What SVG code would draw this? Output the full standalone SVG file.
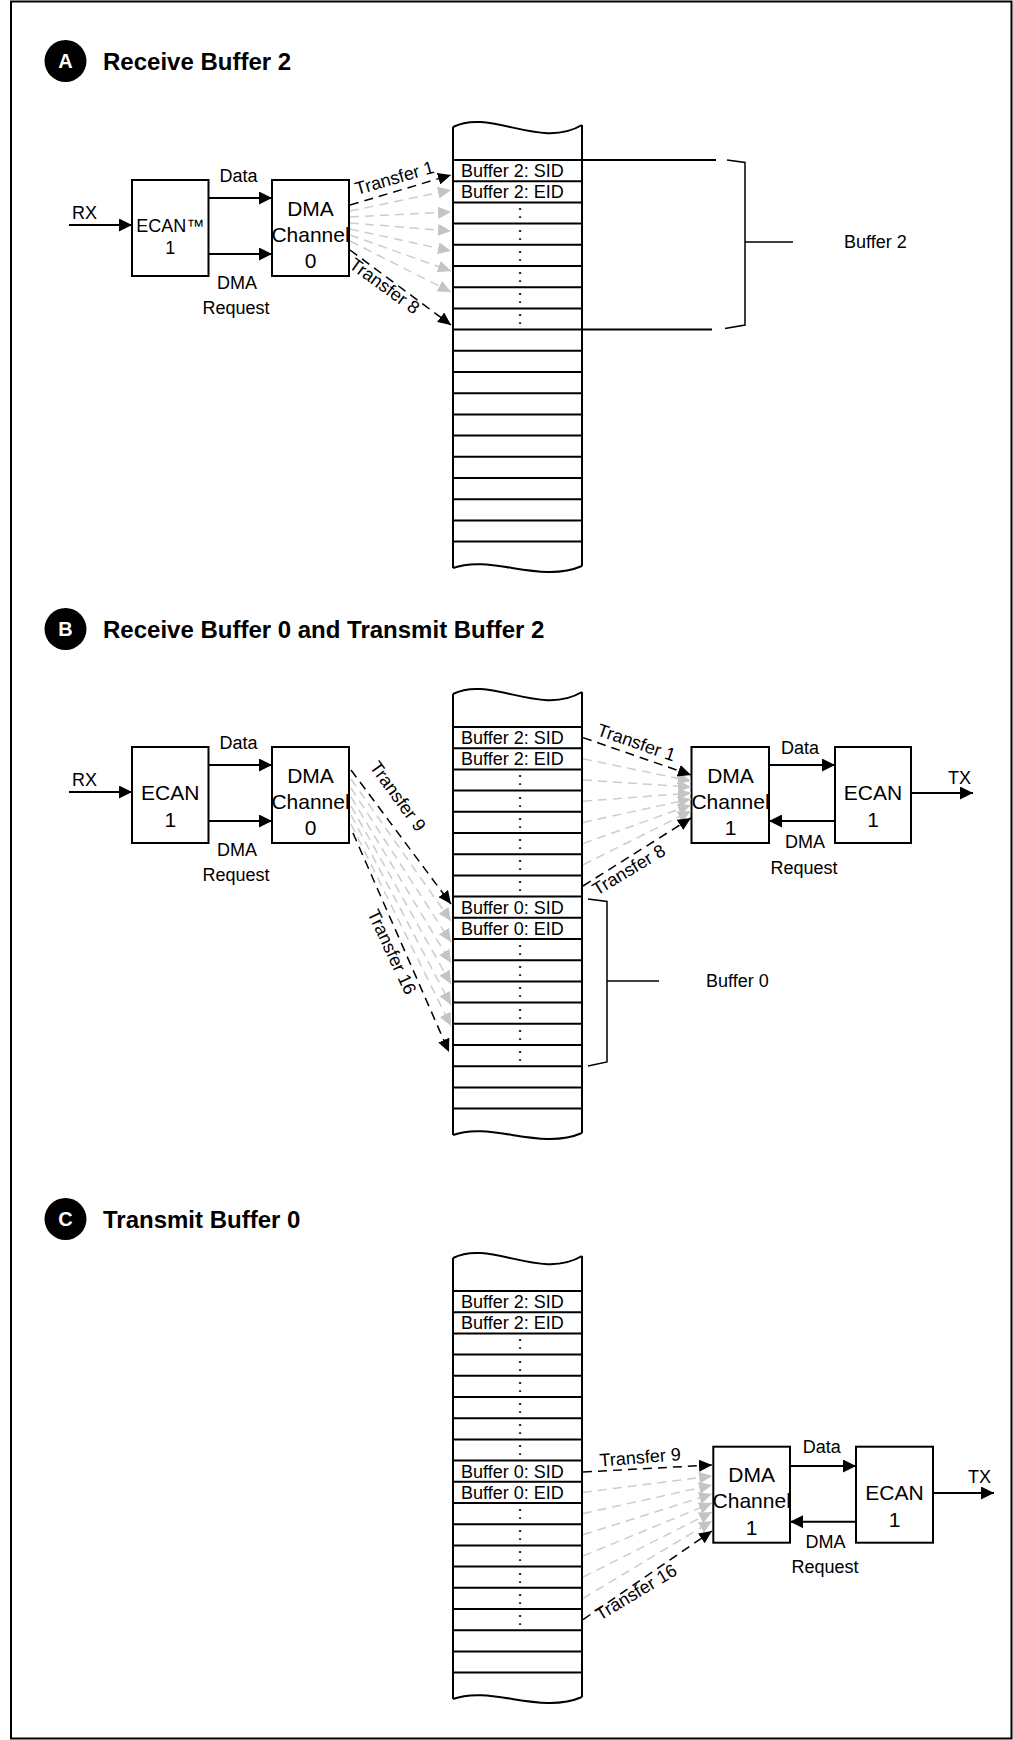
<svg xmlns="http://www.w3.org/2000/svg" xmlns:xlink="http://www.w3.org/1999/xlink" width="1013" height="1740" viewBox="0 0 1013 1740">
<style>
.ln{stroke:#000;stroke-width:2;fill:none}
.thin{stroke:#000;stroke-width:1.5;fill:none}
.box{fill:#fff;stroke:#000;stroke-width:2}
.t18{font-family:"Liberation Sans",Arial,sans-serif;font-size:18px;fill:#000}
.t21{font-family:"Liberation Sans",Arial,sans-serif;font-size:21px;fill:#000}
.ttl{font-family:"Liberation Sans",Arial,sans-serif;font-size:24px;font-weight:bold;fill:#000}
.cl{font-family:"Liberation Sans",Arial,sans-serif;font-size:20px;font-weight:bold;fill:#fff}
.mid{text-anchor:middle}
.arr{stroke:#000;stroke-width:2;fill:none;marker-end:url(#a)}
.dk{stroke:#000;stroke-width:1.5;stroke-dasharray:9 6;fill:none;marker-end:url(#ak)}
.gy{stroke:#cccccc;stroke-width:1.5;stroke-dasharray:9 6;fill:none;marker-end:url(#ag)}
</style>
<defs>
<marker id="a" viewBox="0 0 13 13" refX="13" refY="6.5" markerWidth="13" markerHeight="13" markerUnits="userSpaceOnUse" orient="auto"><path d="M0,0 L13,6.5 L0,13 z" fill="#000" stroke="none"/></marker>
<marker id="ak" viewBox="0 0 13 12" refX="13" refY="6" markerWidth="13" markerHeight="12" markerUnits="userSpaceOnUse" orient="auto"><path d="M0,0 L13,6 L0,12 z" fill="#000" stroke="none"/></marker>
<marker id="ag" viewBox="0 0 13 12" refX="13" refY="6" markerWidth="13" markerHeight="12" markerUnits="userSpaceOnUse" orient="auto"><path d="M0,0 L13,6 L0,12 z" fill="#c4c4c4" stroke="none"/></marker>
<g id="col">
<path class="ln" d="M453,-33 V408 M582,-35 V406"/>
<path class="ln" d="M453,-33 C490,-52 540,-10 582,-35"/>
<path class="ln" d="M453,408 C490,394 540,424 582,406"/>
<path class="ln" d="M453,0H582M453,21.2H582M453,42.4H582M453,63.6H582M453,84.8H582M453,106H582M453,127.2H582M453,148.4H582M453,169.6H582M453,190.8H582M453,212H582M453,233.2H582M453,254.4H582M453,275.6H582M453,296.8H582M453,318H582M453,339.2H582M453,360.4H582M453,381.6H582"/>
</g>
<g id="dots2">
<text class="t18 mid" x="520" y="58.4">:</text>
<text class="t18 mid" x="520" y="79.6">:</text>
<text class="t18 mid" x="520" y="100.8">:</text>
<text class="t18 mid" x="520" y="122">:</text>
<text class="t18 mid" x="520" y="143.2">:</text>
<text class="t18 mid" x="520" y="164.4">:</text>
</g>
</defs>

<rect id="frame" x="11" y="1.5" width="1000.5" height="1737" fill="none" stroke="#000" stroke-width="2"/>

<!-- ===== Section A ===== -->
<g id="titleA">
<circle cx="65.5" cy="61" r="21" fill="#000"/>
<text class="cl mid" x="65.5" y="68">A</text>
<text class="ttl" x="103" y="69.5">Receive Buffer 2</text>
</g>
<g id="memA" transform="translate(0,160)">
<use xlink:href="#col"/>
<text class="t18" x="461" y="17">Buffer 2: SID</text>
<text class="t18" x="461" y="38.2">Buffer 2: EID</text>
<use xlink:href="#dots2"/>
</g>
<g id="bracketA">
<path class="ln" d="M582,160 H716 M582,329.6 H712"/>
<path class="thin" d="M727,160 L745,162.5 L745,325 L725,328.5 M745,242 H793"/>
<text class="t18" x="844" y="248">Buffer 2</text>
</g>
<g id="ecanA">
<rect class="box" x="132" y="180" width="76.5" height="96"/>
<text class="t18 mid" x="170.3" y="231.5">ECAN™</text>
<text class="t18 mid" x="170.3" y="253.5">1</text>
</g>
<g id="dmaA">
<rect class="box" x="272" y="180" width="77" height="96"/>
<text class="t21 mid" x="310.5" y="215.5">DMA</text>
<text class="t21 mid" x="310.5" y="241.5">Channel</text>
<text class="t21 mid" x="310.5" y="268">0</text>
</g>
<g id="connA">
<path class="arr" d="M69,225 H132"/>
<text class="t18" x="72" y="219">RX</text>
<path class="arr" d="M208.5,198 H272"/>
<text class="t18 mid" x="238.5" y="182">Data</text>
<path class="arr" d="M208.5,254 H272"/>
<text class="t18 mid" x="237" y="288.5">DMA</text>
<text class="t18 mid" x="236" y="313.5">Request</text>
<path class="gy" d="M350,211 L451,190"/>
<path class="gy" d="M350,217 L451,212"/>
<path class="gy" d="M350,223 L451,231"/>
<path class="gy" d="M350,229 L451,251"/>
<path class="gy" d="M350,235 L451,271"/>
<path class="gy" d="M350,241 L451,292"/>
<path class="dk" d="M350,205 L451,175"/>
<path class="dk" d="M350,250 L451,325"/>
<text class="t18" transform="translate(357,195) rotate(-16)">Transfer 1</text>
<text class="t18" transform="translate(348,267) rotate(36)">Transfer 8</text>
</g>

<!-- ===== Section B ===== -->
<g id="titleB">
<circle cx="65.5" cy="629" r="21" fill="#000"/>
<text class="cl mid" x="65.5" y="636">B</text>
<text class="ttl" x="103" y="637.5">Receive Buffer 0 and Transmit Buffer 2</text>
</g>
<g id="memB" transform="translate(0,727)">
<use xlink:href="#col"/>
<text class="t18" x="461" y="17">Buffer 2: SID</text>
<text class="t18" x="461" y="38.2">Buffer 2: EID</text>
<use xlink:href="#dots2"/>
<text class="t18" x="461" y="186.6">Buffer 0: SID</text>
<text class="t18" x="461" y="207.8">Buffer 0: EID</text>
<use xlink:href="#dots2" y="169.6"/>
</g>
<g id="bracketB">
<path class="thin" d="M588,899 L607,901.5 L607,1062 L588,1066 M607,981 H659"/>
<text class="t18" x="706" y="987">Buffer 0</text>
</g>
<g id="ecanB0">
<rect class="box" x="132" y="747" width="76.5" height="96"/>
<text class="t21 mid" x="170.3" y="800">ECAN</text>
<text class="t21 mid" x="170.3" y="827">1</text>
</g>
<g id="dmaB0">
<rect class="box" x="272" y="747" width="77" height="96"/>
<text class="t21 mid" x="310.5" y="782.5">DMA</text>
<text class="t21 mid" x="310.5" y="808.5">Channel</text>
<text class="t21 mid" x="310.5" y="835">0</text>
</g>
<g id="dmaB1">
<rect class="box" x="691.5" y="747" width="77.5" height="96"/>
<text class="t21 mid" x="730.5" y="783">DMA</text>
<text class="t21 mid" x="730.5" y="809">Channel</text>
<text class="t21 mid" x="730.5" y="835">1</text>
</g>
<g id="ecanB1">
<rect class="box" x="835" y="747" width="76" height="96"/>
<text class="t21 mid" x="873" y="800">ECAN</text>
<text class="t21 mid" x="873" y="827">1</text>
</g>
<g id="connB">
<path class="arr" d="M69,792 H132"/>
<text class="t18" x="72" y="786">RX</text>
<path class="arr" d="M208.5,765 H272"/>
<text class="t18 mid" x="238.5" y="749">Data</text>
<path class="arr" d="M208.5,821 H272"/>
<text class="t18 mid" x="237" y="855.5">DMA</text>
<text class="t18 mid" x="236" y="880.5">Request</text>
<path class="gy" d="M351,779 L451,921"/>
<path class="gy" d="M351,788 L451,942"/>
<path class="gy" d="M351,797 L451,963"/>
<path class="gy" d="M351,806 L451,984"/>
<path class="gy" d="M351,815 L451,1005"/>
<path class="gy" d="M351,824 L451,1026"/>
<path class="dk" d="M351,770 L451,904"/>
<path class="dk" d="M353,833 L449,1052"/>
<text class="t18" transform="translate(369,767) rotate(54)">Transfer 9</text>
<text class="t18" transform="translate(367,913) rotate(65)">Transfer 16</text>
<path class="gy" d="M583,758.8 L691,781"/>
<path class="gy" d="M583,780 L691,787"/>
<path class="gy" d="M583,801.2 L691,793"/>
<path class="gy" d="M583,822.4 L691,799"/>
<path class="gy" d="M583,843.6 L691,805"/>
<path class="gy" d="M583,864.8 L691,811"/>
<path class="dk" d="M583,737.6 L691,775"/>
<path class="dk" d="M583,886 L691,818"/>
<text class="t18" transform="translate(596,735) rotate(19)">Transfer 1</text>
<text class="t18" transform="translate(597,896) rotate(-31)">Transfer 8</text>
<path class="arr" d="M769,765 H835"/>
<text class="t18 mid" x="800" y="754">Data</text>
<path class="arr" d="M835,821 H769"/>
<text class="t18 mid" x="805" y="848">DMA</text>
<text class="t18 mid" x="804" y="873.5">Request</text>
<path class="arr" d="M911,793 H973"/>
<text class="t18" x="948" y="783.5">TX</text>
</g>

<!-- ===== Section C ===== -->
<g id="titleC">
<circle cx="65.5" cy="1219" r="21" fill="#000"/>
<text class="cl mid" x="65.5" y="1226">C</text>
<text class="ttl" x="103" y="1227.5">Transmit Buffer 0</text>
</g>
<g id="memC" transform="translate(0,1291)">
<use xlink:href="#col"/>
<text class="t18" x="461" y="17">Buffer 2: SID</text>
<text class="t18" x="461" y="38.2">Buffer 2: EID</text>
<use xlink:href="#dots2"/>
<text class="t18" x="461" y="186.6">Buffer 0: SID</text>
<text class="t18" x="461" y="207.8">Buffer 0: EID</text>
<use xlink:href="#dots2" y="169.6"/>
</g>
<g id="dmaC1">
<rect class="box" x="713.3" y="1446.7" width="76.7" height="96"/>
<text class="t21 mid" x="751.7" y="1482.2">DMA</text>
<text class="t21 mid" x="751.7" y="1508.2">Channel</text>
<text class="t21 mid" x="751.7" y="1534.7">1</text>
</g>
<g id="ecanC1">
<rect class="box" x="856" y="1446.7" width="77" height="96"/>
<text class="t21 mid" x="894.5" y="1499.7">ECAN</text>
<text class="t21 mid" x="894.5" y="1526.7">1</text>
</g>
<g id="connC">
<path class="gy" d="M583,1492.4 L712,1476"/>
<path class="gy" d="M583,1513.6 L712,1485"/>
<path class="gy" d="M583,1534.8 L712,1494"/>
<path class="gy" d="M583,1556 L712,1503"/>
<path class="gy" d="M583,1577.2 L712,1512"/>
<path class="gy" d="M583,1598.4 L712,1521"/>
<path class="dk" d="M583,1472 L712,1465"/>
<path class="dk" d="M583,1619.6 L712,1531"/>
<text class="t18" transform="translate(600,1466.5) rotate(-4.5)">Transfer 9</text>
<text class="t18" transform="translate(600,1621) rotate(-31)">Transfer 16</text>
<path class="arr" d="M790,1466 H856"/>
<text class="t18 mid" x="821.7" y="1453.3">Data</text>
<path class="arr" d="M856,1521.7 H790"/>
<text class="t18 mid" x="825.5" y="1548.3">DMA</text>
<text class="t18 mid" x="825" y="1573.3">Request</text>
<path class="arr" d="M933,1493 H994"/>
<text class="t18" x="968" y="1483">TX</text>
</g>
</svg>
